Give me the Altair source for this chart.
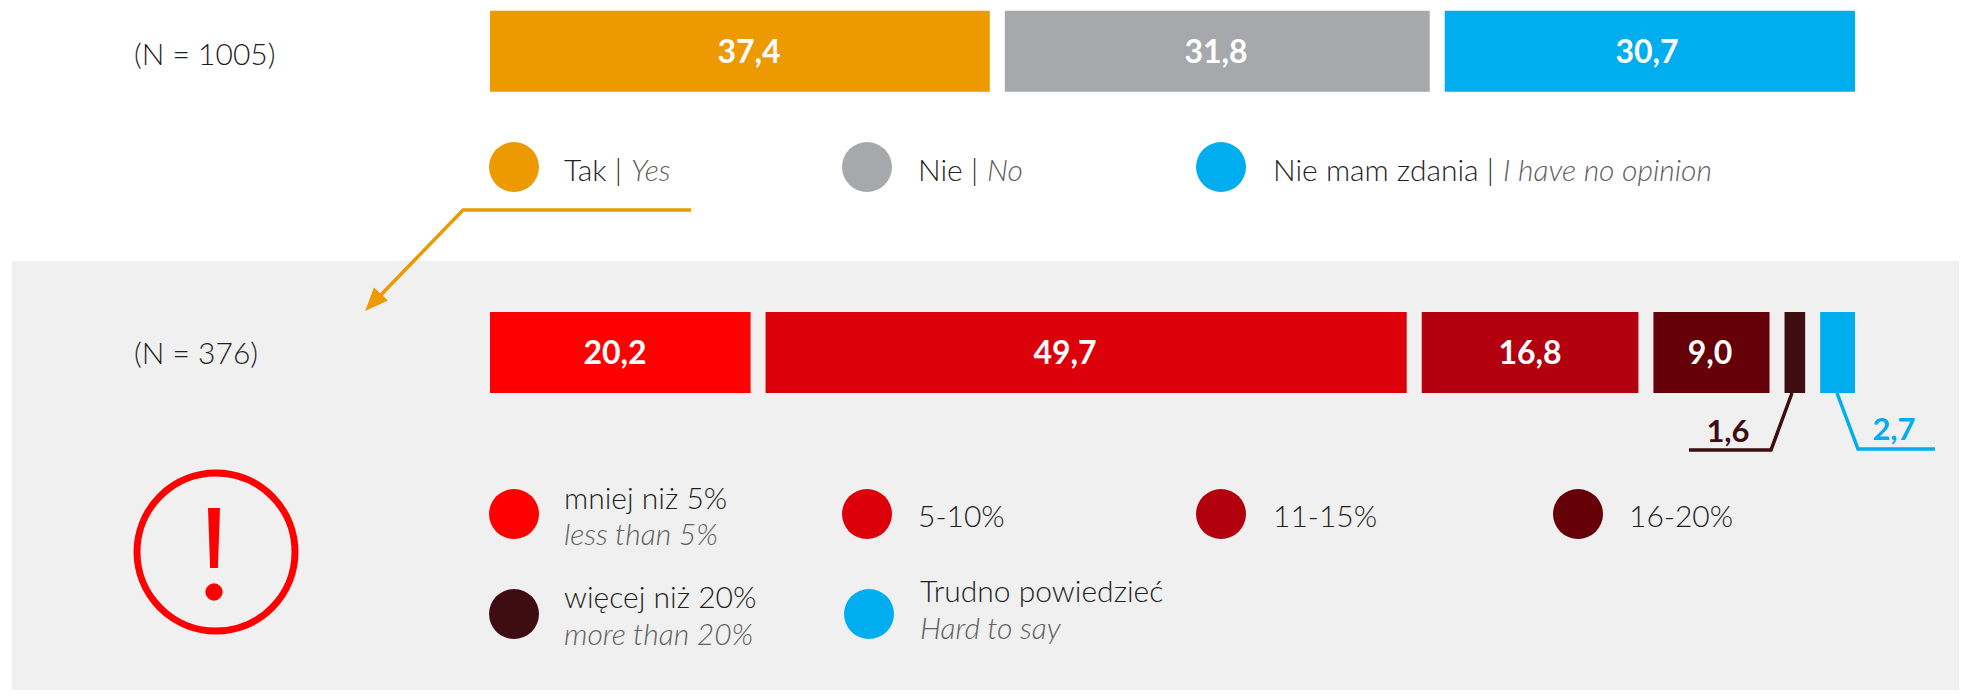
import altair as alt
import pandas as pd

M = 8  # page margin
FONT = "Lato"
DARK = "#1f1f1f"
GREY = "#5f5f5f"

# values
rows = ["(N = 1005)", "(N = 376)"]
top_values = [37.4, 31.8, 30.7]
top_colors = ["#EC9A00", "#A7A8AB", "#00AEEF"]
low_values = [20.2, 49.7, 16.8, 9.0, 1.6, 2.7]
low_colors = ["#FF0000", "#DB0009", "#B3000F", "#650008", "#3E0D12", "#00AEEF"]
top_labels_center = [749, 1216, 1647]
low_labels_center = [615, 1065, 1530, 1710]

GAP = 15 / 1365


def bars(row, values, colors):
    n = len(values)
    total = sum(values)
    usable = 1 - GAP * (n - 1)
    out, cur = [], 0.0
    for v, c in zip(values, colors):
        w = v / total * usable
        out.append({"row": row, "start": cur, "end": cur + w, "color": c, "value": v})
        cur += w + GAP
    return out


bar_df = pd.DataFrame(bars(rows[0], top_values, top_colors) + bars(rows[1], low_values, low_colors))

fmt = lambda v: f"{v:.1f}".replace(".", ",")


def T(text, x, y, color=DARK):
    return {"text": text, "px": x - M, "py": y - M, "color": color}


# bold white values in bars
white = [T(fmt(v), x, 63, "#ffffff") for v, x in zip(top_values, top_labels_center)] + [
    T(fmt(v), x, 364, "#ffffff") for v, x in zip(low_values, low_labels_center)
]
outside = [T(fmt(low_values[4]), 1728, 442, "#3E0D12"), T(fmt(low_values[5]), 1894, 440, "#00AEEF")]

left = [T(rows[0], 134, 65), T(rows[1], 134, 364)]

roman = [
    T("Tak |", 564, 181), T("Nie |", 918, 181), T("Nie mam zdania |", 1273, 181),
    T("mniej niż 5%", 564, 509), T("5-10%", 918, 527), T("11-15%", 1273, 527), T("16-20%", 1629, 527),
    T("więcej niż 20%", 564, 608), T("Trudno powiedzieć", 920, 602),
]
italic = [
    T("Yes", 631, 181, GREY), T("No", 987, 181, GREY), T("I have no opinion", 1503, 181, GREY),
    T("less than 5%", 564, 545, GREY), T("more than 20%", 564, 645, GREY), T("Hard to say", 920, 639, GREY),
]

dots = pd.DataFrame(
    [
        {"px": x - M, "py": y - M, "color": c}
        for x, y, c in [
            (514, 167, "#EC9A00"), (867, 167, "#A7A8AB"), (1221, 167, "#00AEEF"),
            (514, 514, "#FF0000"), (867, 514, "#DB0009"), (1221, 514, "#B3000F"), (1578, 514, "#650008"),
            (514, 614, "#3E0D12"), (869, 614, "#00AEEF"),
        ]
    ]
)

px = alt.X("px:Q", scale=None, axis=None)
py = alt.Y("py:Q", scale=None, axis=None)
col = alt.Color("color:N", scale=None, legend=None)


def line(points, color, width):
    df = pd.DataFrame([{"px": x - M, "py": y - M, "i": i} for i, (x, y) in enumerate(points)])
    return (
        alt.Chart(df)
        .mark_line(color=color, strokeWidth=width, strokeJoin="miter")
        .encode(x=px, y=py, order=alt.Order("i:Q"))
    )


def texts(items, size, **kw):
    return (
        alt.Chart(pd.DataFrame(items))
        .mark_text(font=FONT, fontSize=size, baseline="alphabetic", **kw)
        .encode(x=px, y=py, text="text:N", color=col)
    )


background = alt.Chart(pd.DataFrame({"a": [0]})).mark_rect(color="#F0F0F0").encode(
    x=alt.value(12 - M), x2=alt.value(1967 - M), y=alt.value(261 - M), y2=alt.value(698 - M)
)

bar_layer = (
    alt.Chart(bar_df)
    .mark_bar(size=81)
    .encode(
        x=alt.X("start:Q", scale=alt.Scale(domain=[0, 1], range=[490 - M, 1855 - M]), axis=None),
        x2="end:Q",
        y=alt.Y("row:N", scale=alt.Scale(type="point", padding=0, domain=rows, range=[51.2 - M, 352.5 - M]), axis=None),
        color=col,
    )
)

dot_layer = alt.Chart(dots).mark_point(filled=True, shape="circle", size=2500, opacity=1).encode(x=px, y=py, color=col)

arrow_head = (
    alt.Chart(pd.DataFrame([{"px": 373 - M, "py": 302.5 - M}]))
    .mark_point(filled=True, shape="M0,-1.15L0.95,1.15L-0.95,1.15Z", size=400, angle=223, color="#EC9A00", opacity=1)
    .encode(x=px, y=py)
)

ring = (
    alt.Chart(pd.DataFrame([{"px": 216 - M, "py": 552 - M}]))
    .mark_point(shape="circle", size=158 * 158, color="#FF0000", strokeWidth=7, filled=False, opacity=1)
    .encode(x=px, y=py)
)
bang = (
    alt.Chart(pd.DataFrame([{"px": 214 - M, "py": 538 - M}]))
    .mark_point(shape="M-0.2,-1L0.2,-1L0.13,1L-0.13,1Z", size=3600, filled=True, color="#FF0000", opacity=1)
    .encode(x=px, y=py)
)
bang_dot = (
    alt.Chart(pd.DataFrame([{"px": 214 - M, "py": 592 - M}]))
    .mark_point(shape="circle", size=300, filled=True, color="#FF0000", opacity=1)
    .encode(x=px, y=py)
)

chart = (
    alt.layer(
        background,
        bar_layer,
        dot_layer,
        line([(691, 210), (463, 210), (375, 301)], "#EC9A00", 3.5),
        arrow_head,
        line([(1792, 393), (1771, 450), (1689, 450)], "#3E0D12", 3.5),
        line([(1837, 393), (1858, 449), (1935, 449)], "#00AEEF", 3.5),
        ring,
        bang,
        bang_dot,
        texts(left, 30, align="left", fontWeight=300),
        texts(roman, 30, align="left", fontWeight=300),
        texts(italic, 30, align="left", fontWeight=300, fontStyle="italic"),
        texts(white, 32, align="center", fontWeight="bold"),
        texts(outside, 31, align="center", fontWeight="bold"),
    )
    .properties(width=1951, height=682, padding=0, autosize=alt.AutoSizeParams(type="none"), background="#ffffff")
    .configure_view(stroke=None)
)

chart.save("out.html", embed_options={"renderer": "svg", "actions": False})
